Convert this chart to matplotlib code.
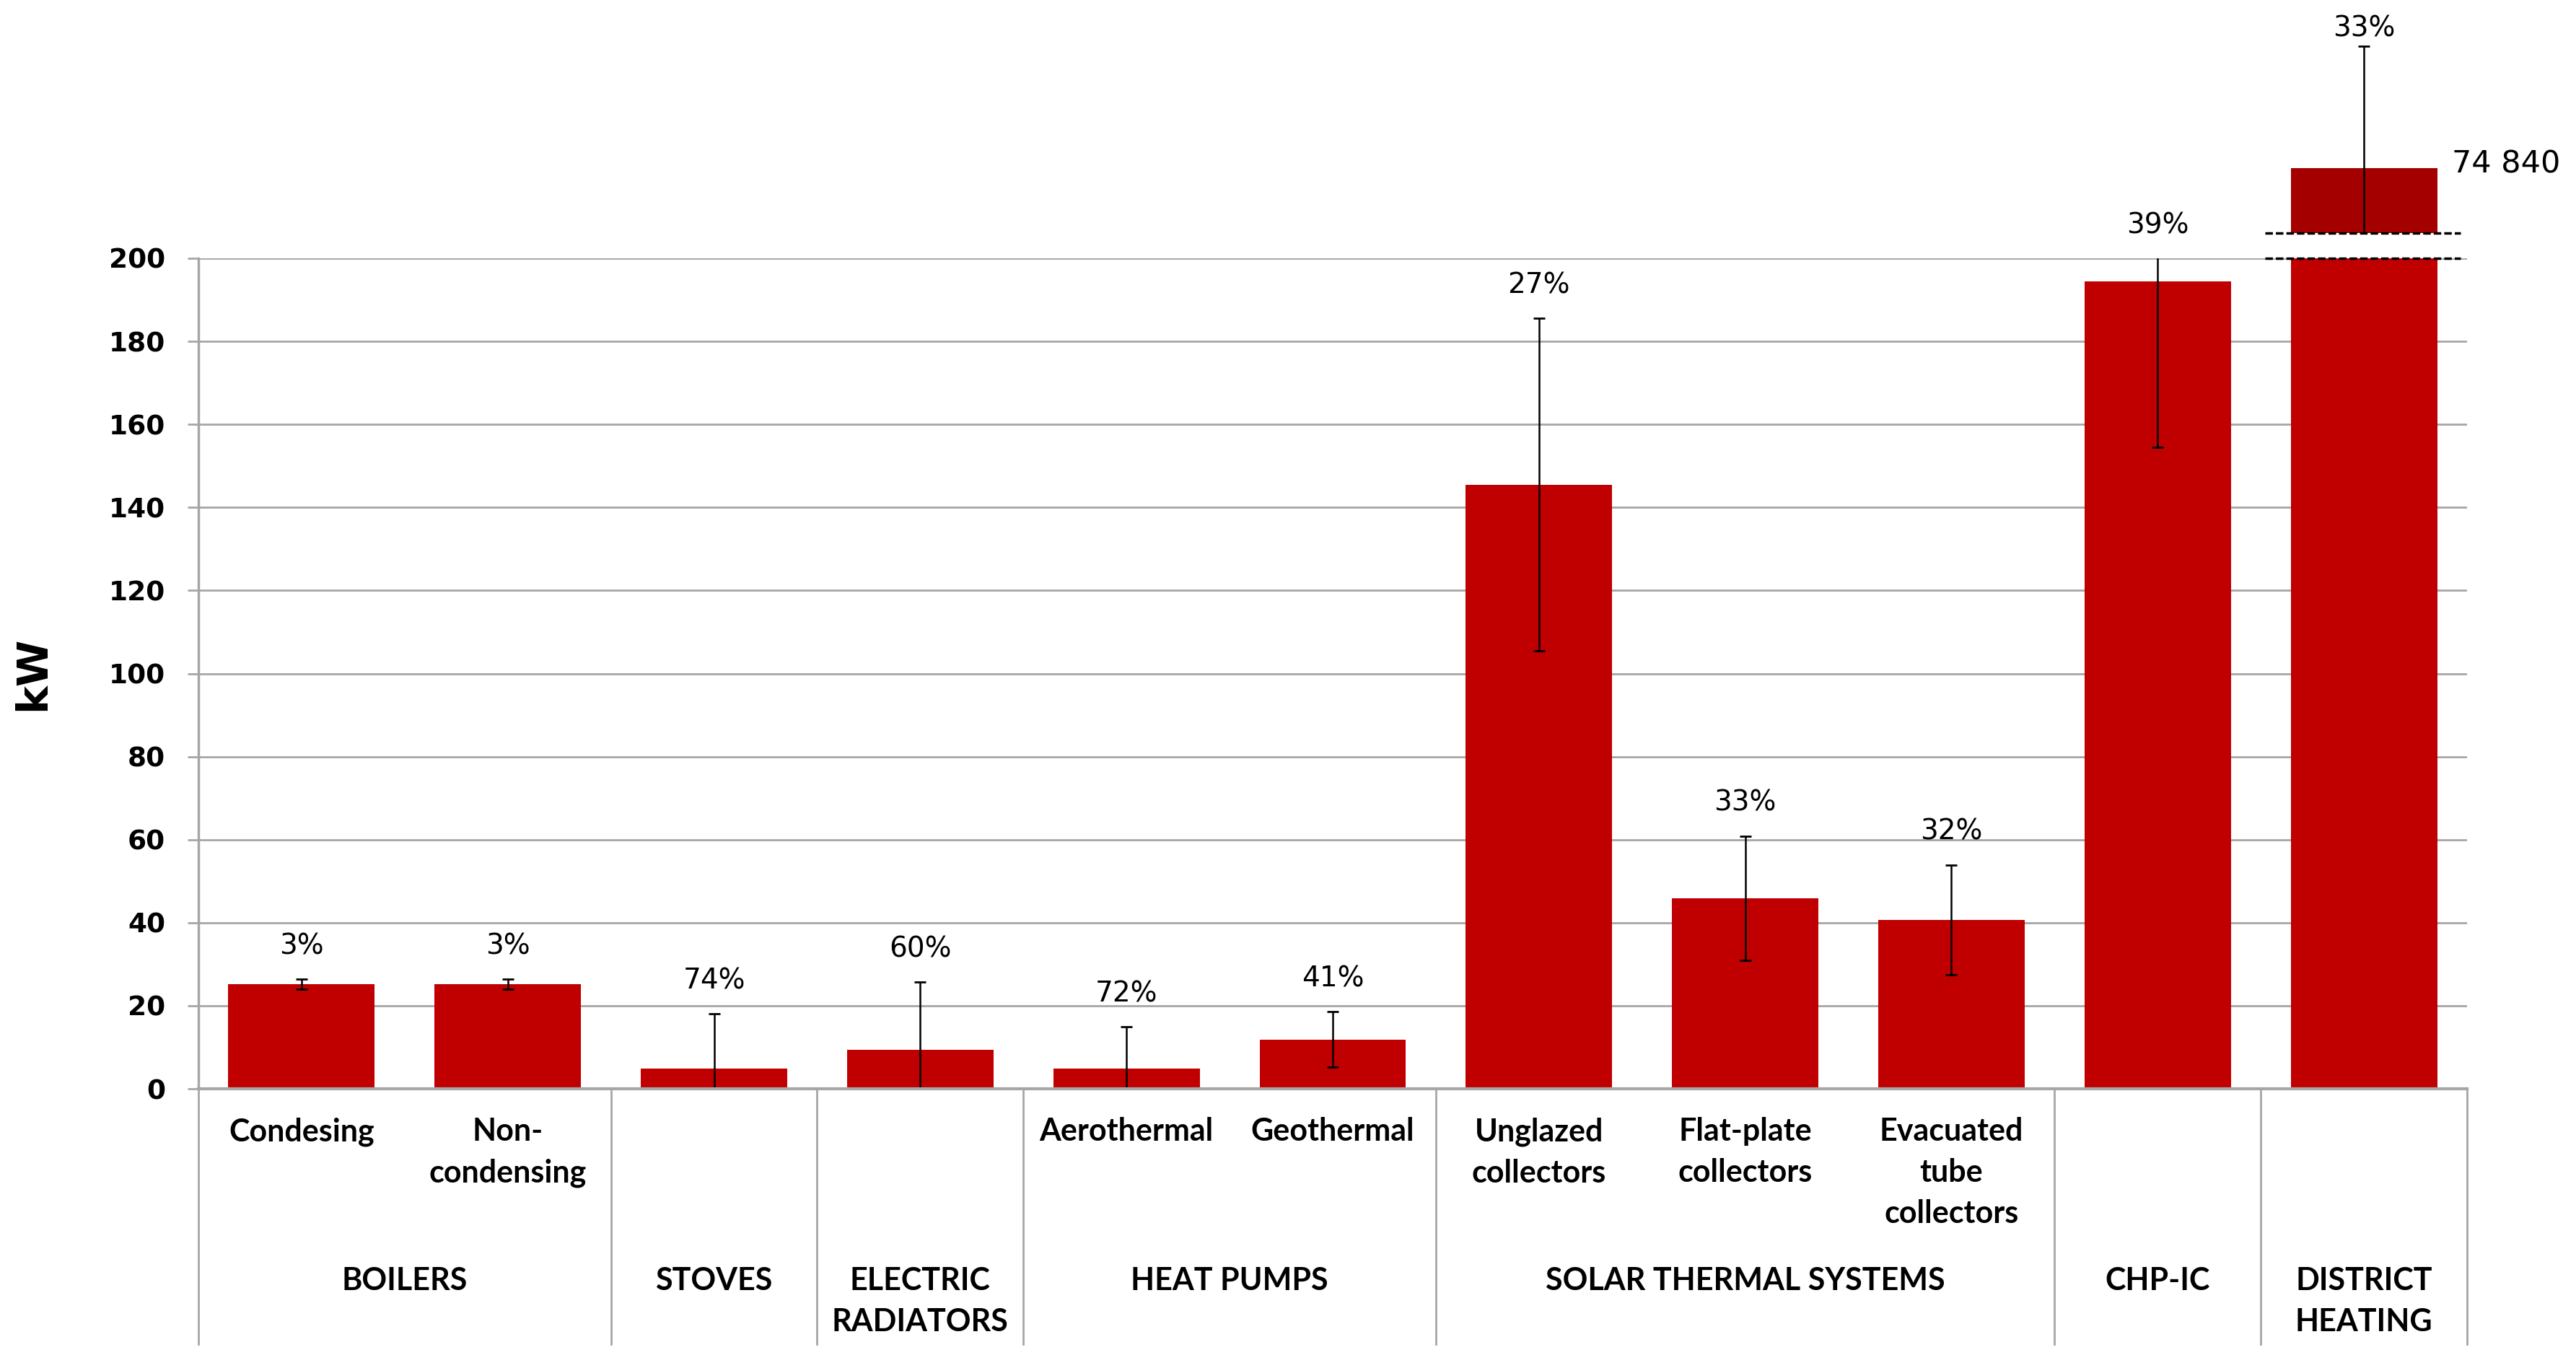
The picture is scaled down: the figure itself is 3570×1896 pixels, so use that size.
import numpy as np
import matplotlib.pyplot as plt
from matplotlib import transforms

plt.rcParams['font.family'] = ['DejaVu Sans']

# -----------------------------
# data
# -----------------------------
sub_labels = ["Condesing", "Non-\ncondensing", "", "", "Aerothermal", "Geothermal",
              "Unglazed\ncollectors", "Flat-plate\ncollectors", "Evacuated\ntube\ncollectors",
              "", ""]
power_kw = [25.2, 25.2, 4.9, 9.4, 4.9, 11.9, 145.5, 45.9, 40.7, 194.4, 74840]
err_kw = [1.2, 1.2, 13.2, 16.3, 10.0, 6.7, 40.0, 15.0, 13.2, 40.0, 24700]
cv_labels = ["3%", "3%", "74%", "60%", "72%", "41%", "27%", "33%", "32%", "39%", "33%"]

groups = ["BOILERS", "STOVES", "ELECTRIC\nRADIATORS", "HEAT PUMPS",
          "SOLAR THERMAL SYSTEMS", "CHP-IC", "DISTRICT\nHEATING"]
group_sizes = [2, 1, 1, 2, 3, 1, 1]

# -----------------------------
# styles
# -----------------------------
RED = "#C00000"
DARK_RED = "#A50000"
GRID = "#A6A6A6"
CAT_FONT = ["Lato", "DejaVu Sans"]

W, H = 3570, 1896
fig = plt.figure(figsize=(W / 100, H / 100), dpi=100)

# main axes (0-200 kW) and small axes above the break for district heating
x0, x1 = 275, 3419
y_base, y_top = 1509, 358
ax = fig.add_axes([x0 / W, 1 - y_base / H, (x1 - x0) / W, (y_base - y_top) / H])
ax_up = fig.add_axes([x0 / W, 1 - 323 / H, (x1 - x0) / W, 323 / H])

x = np.arange(len(power_kw))
ymax = 200

ax.bar(x, power_kw, width=0.71, color=RED, zorder=3)
ax.errorbar(x, power_kw, yerr=err_kw, fmt='none', ecolor='black', elinewidth=1.8,
            capsize=5.5, capthick=2, zorder=4)

ax.set_xlim(-0.5, len(x) - 0.5)
ax.set_ylim(0, ymax)
ax.set_yticks(np.arange(0, 201, 20))
ax.set_xticks([])
ax.grid(axis='y', color=GRID, linewidth=2, zorder=0)
ax.tick_params(axis='y', length=11, width=2, color=GRID, labelsize=27, pad=22)
for lbl in ax.get_yticklabels():
    lbl.set_fontweight('bold')

for s in ['top', 'right']:
    ax.spines[s].set_visible(False)
ax.spines['left'].set_color(GRID)
ax.spines['left'].set_linewidth(2.5)
ax.spines['bottom'].set_color(GRID)
ax.spines['bottom'].set_linewidth(3)
ax.spines['bottom'].set_zorder(5)

ax.set_ylabel("kW", fontsize=42, fontweight='bold')
ax.yaxis.set_label_coords(-0.064, 0.5)

# percent labels above the error bars
for i in range(len(x) - 1):
    top = min(power_kw[i] + err_kw[i], ymax)
    ax.annotate(cv_labels[i], (x[i], top), xytext=(0, 33), textcoords='offset points',
                ha='center', va='center', fontsize=28, annotation_clip=False)

# -----------------------------
# upper part of the broken bar
# -----------------------------
i = len(x) - 1
ax_up.bar(x[i], power_kw[i], width=0.71, color=DARK_RED, zorder=3)
ax_up.errorbar(x[i], power_kw[i], yerr=err_kw[i], fmt='none', ecolor='black',
               elinewidth=1.8, capsize=5.5, capthick=2, zorder=4)
ax_up.set_xlim(ax.get_xlim())
ax_up.set_ylim(61700, 108900)
ax_up.axis('off')
ax_up.annotate(cv_labels[i], (x[i], power_kw[i] + err_kw[i]), xytext=(0, 18),
               textcoords='offset points', ha='center', va='center', fontsize=28,
               annotation_clip=False)
ax_up.annotate(f"{power_kw[i]:,}".replace(",", " "), (x[i] + 0.355, power_kw[i]),
               xytext=(15, 4), textcoords='offset points', ha='left', va='center',
               fontsize=31, annotation_clip=False)

# break marks
for a, yy in [(ax_up, 0), (ax, 1)]:
    tr = transforms.blended_transform_factory(a.transData, a.transAxes)
    a.plot([x[i] - 0.48, x[i] + 0.47], [yy, yy], transform=tr, color='black',
           linewidth=2.5, linestyle=(0, (3, 1.2)), clip_on=False, zorder=6)

# -----------------------------
# category table under the axis
# -----------------------------
trx = ax.get_xaxis_transform()
table_bottom = -0.3076

for xi, lab in zip(x, sub_labels):
    if lab:
        ax.text(xi, -0.034, lab, transform=trx, ha='center', va='top', fontsize=31,
                fontweight='bold', family=CAT_FONT, linespacing=1.52)

bounds = np.concatenate([[0], np.cumsum(group_sizes)]) - 0.5
for b in bounds:
    ax.plot([b, b], [0, table_bottom], transform=trx, color=GRID, linewidth=2,
            clip_on=False)
for g, lo, hi in zip(groups, bounds[:-1], bounds[1:]):
    ax.text((lo + hi) / 2, -0.214, g, transform=trx, ha='center', va='top',
            fontsize=31, fontweight='bold', family=CAT_FONT, linespacing=1.52)

plt.savefig("out.png", dpi=100)
